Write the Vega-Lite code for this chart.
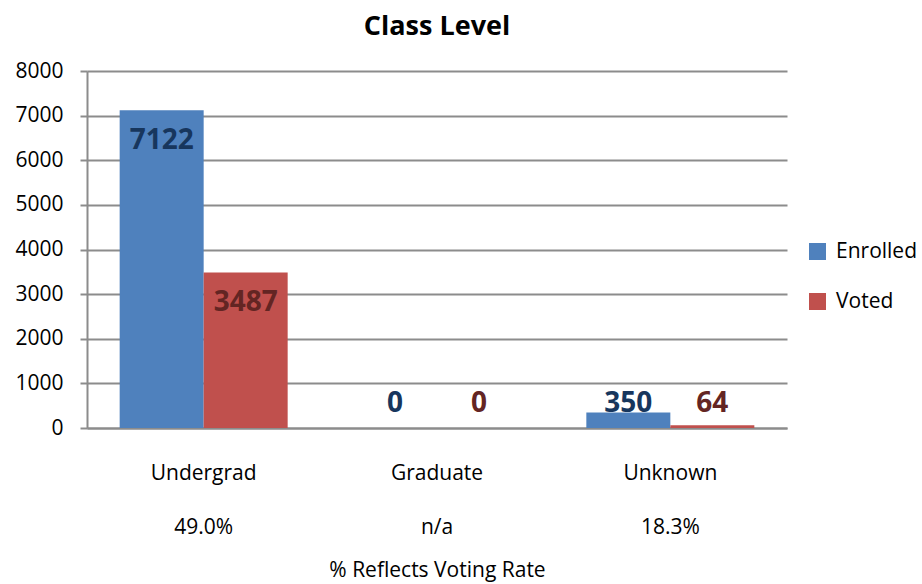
{
  "$schema": "https://vega.github.io/schema/vega-lite/v6.json",
  "width": 700,
  "height": 357,
  "autosize": {"type": "none"},
  "padding": {"left": 87, "top": 71, "right": 135, "bottom": 156},
  "background": "white",
  "title": {"text": "Class Level", "fontSize": 27, "fontWeight": "bold", "font": "Open Sans", "color": "#000000", "anchor": "middle", "offset": 19},
  "datasets": {
    "counts": [
      {"level": "Undergrad", "series": "Enrolled", "value": 7122},
      {"level": "Undergrad", "series": "Voted", "value": 3487},
      {"level": "Graduate", "series": "Enrolled", "value": 0},
      {"level": "Graduate", "series": "Voted", "value": 0},
      {"level": "Unknown", "series": "Enrolled", "value": 350},
      {"level": "Unknown", "series": "Voted", "value": 64}
    ],
    "rates": [
      {"level": "Undergrad", "rate": "49.0%"},
      {"level": "Graduate", "rate": "n/a"},
      {"level": "Unknown", "rate": "18.3%"}
    ]
  },
  "encoding": {
    "x": {
      "field": "level", "type": "nominal", "sort": ["Undergrad", "Graduate", "Unknown"],
      "scale": {"paddingInner": 0.28, "paddingOuter": 0.14},
      "axis": {"title": "% Reflects Voting Rate", "labelAngle": 0, "ticks": false, "tickSize": 0, "labelPadding": 34, "titlePadding": 76, "domainColor": "#8c8c8c", "domainWidth": 2, "labelFontSize": 21, "titleFontSize": 21, "titleFontWeight": "normal", "labelFont": "Open Sans", "titleFont": "Open Sans", "labelColor": "#000000", "titleColor": "#000000"}
    }
  },
  "layer": [
    {
      "data": {"name": "counts"},
      "mark": {"type": "bar"},
      "encoding": {
        "xOffset": {"field": "series", "type": "nominal", "sort": ["Enrolled", "Voted"]},
        "y": {
          "field": "value", "type": "quantitative",
          "scale": {"domain": [0, 8000], "nice": false},
          "axis": {"title": null, "values": [0, 1000, 2000, 3000, 4000, 5000, 6000, 7000, 8000], "format": "d", "tickSize": 7, "tickColor": "#8c8c8c", "tickWidth": 2, "labelPadding": 17, "domainColor": "#8c8c8c", "domainWidth": 2, "gridColor": "#8c8c8c", "gridWidth": 2, "labelFontSize": 21, "labelFont": "Open Sans", "labelColor": "#000000"}
        },
        "color": {
          "field": "series", "type": "nominal",
          "scale": {"domain": ["Enrolled", "Voted"], "range": ["#4F81BD", "#C0504D"]},
          "legend": {"title": null, "orient": "none", "legendX": 720, "legendY": 170, "symbolType": "square", "symbolSize": 289, "symbolStrokeWidth": 0, "labelFontSize": 21, "labelFont": "Open Sans", "labelColor": "#000000", "labelOffset": 8, "rowPadding": 28, "padding": 0}
        }
      }
    },
    {
      "data": {"name": "counts"},
      "transform": [{"calculate": "max(datum.value, 1230)", "as": "labelPos"}],
      "mark": {"type": "text", "fontSize": 28, "fontWeight": "bold", "font": "Open Sans", "baseline": "middle", "dy": 31},
      "encoding": {
        "xOffset": {"field": "series", "type": "nominal", "sort": ["Enrolled", "Voted"]},
        "y": {"field": "labelPos", "type": "quantitative"},
        "text": {"field": "value", "type": "quantitative", "format": "d"},
        "color": {"condition": {"test": "datum.series === 'Enrolled'", "value": "#17365D"}, "value": "#632523"}
      }
    },
    {
      "data": {"name": "rates"},
      "mark": {"type": "text", "fontSize": 21, "font": "Open Sans", "baseline": "middle", "color": "#000000", "dy": 100},
      "encoding": {
        "y": {"datum": 0, "type": "quantitative"},
        "text": {"field": "rate", "type": "nominal"}
      }
    }
  ],
  "config": {"view": {"stroke": null}, "axis": {"gridDash": []}}
}
